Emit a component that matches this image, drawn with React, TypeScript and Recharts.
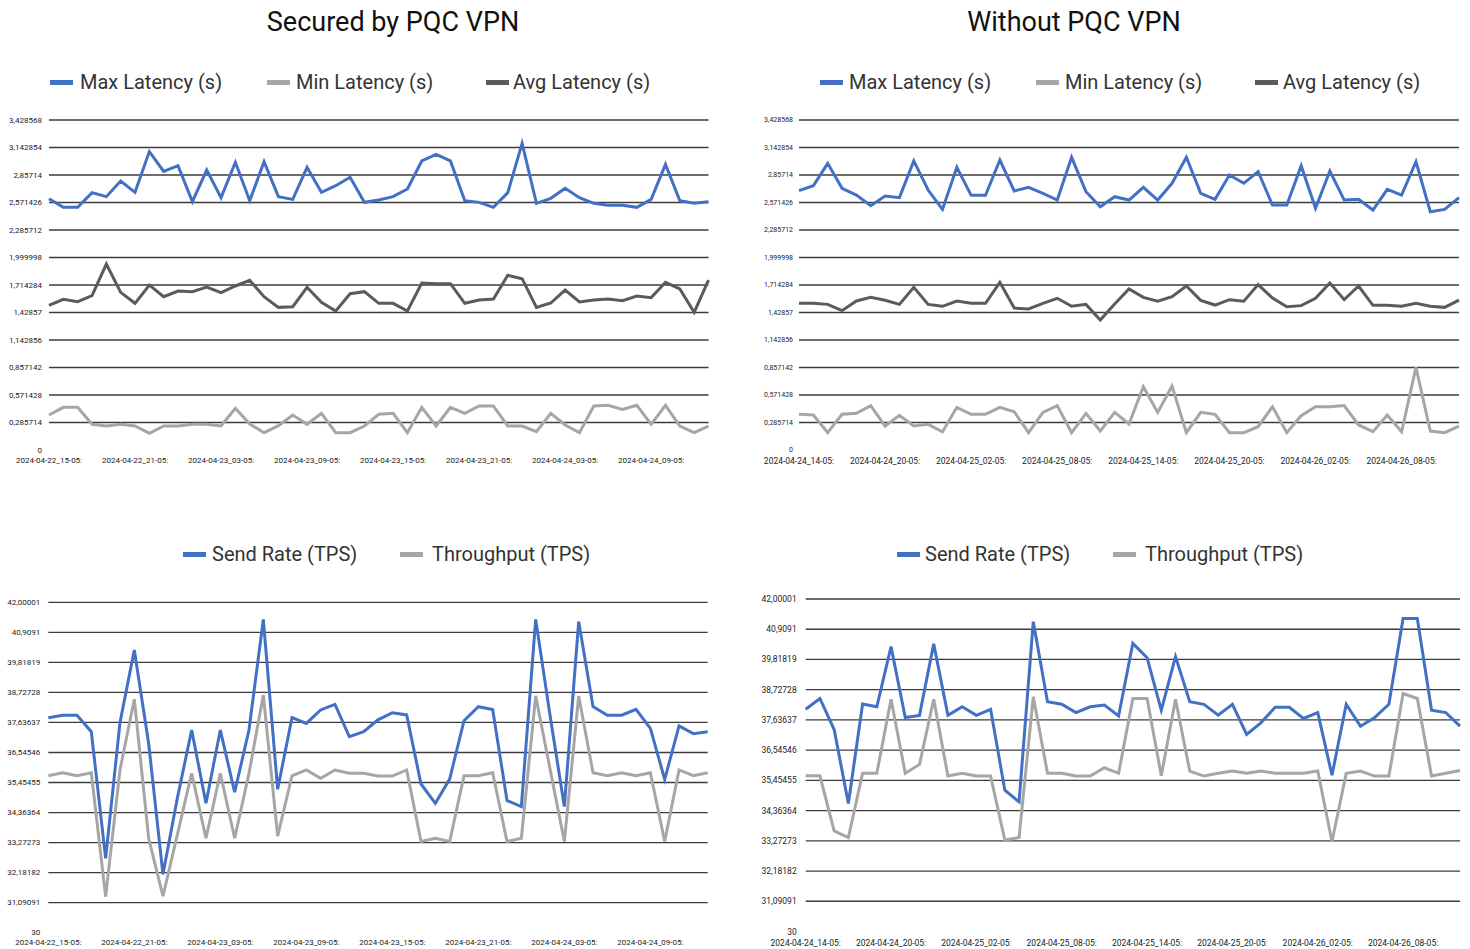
import React from "react";
import { LineChart, Line, XAxis, YAxis, CartesianGrid } from "recharts";

// ---------- categories ----------
const catsSecured = [
  "2024-04-22_15-05:", "2024-04-22_16-05:", "2024-04-22_17-05:", "2024-04-22_18-05:", "2024-04-22_19-05:", "2024-04-22_20-05:",
  "2024-04-22_21-05:", "2024-04-22_22-05:", "2024-04-22_23-05:", "2024-04-23_00-05:", "2024-04-23_01-05:", "2024-04-23_02-05:",
  "2024-04-23_03-05:", "2024-04-23_04-05:", "2024-04-23_05-05:", "2024-04-23_06-05:", "2024-04-23_07-05:", "2024-04-23_08-05:",
  "2024-04-23_09-05:", "2024-04-23_10-05:", "2024-04-23_11-05:", "2024-04-23_12-05:", "2024-04-23_13-05:", "2024-04-23_14-05:",
  "2024-04-23_15-05:", "2024-04-23_16-05:", "2024-04-23_17-05:", "2024-04-23_18-05:", "2024-04-23_19-05:", "2024-04-23_20-05:",
  "2024-04-23_21-05:", "2024-04-23_22-05:", "2024-04-23_23-05:", "2024-04-24_00-05:", "2024-04-24_01-05:", "2024-04-24_02-05:",
  "2024-04-24_03-05:", "2024-04-24_04-05:", "2024-04-24_05-05:", "2024-04-24_06-05:", "2024-04-24_07-05:", "2024-04-24_08-05:",
  "2024-04-24_09-05:", "2024-04-24_10-05:", "2024-04-24_11-05:", "2024-04-24_12-05:", "2024-04-24_13-05:",
];
const catsWithout = [
  "2024-04-24_14-05:", "2024-04-24_15-05:", "2024-04-24_16-05:", "2024-04-24_17-05:", "2024-04-24_18-05:", "2024-04-24_19-05:",
  "2024-04-24_20-05:", "2024-04-24_21-05:", "2024-04-24_22-05:", "2024-04-24_23-05:", "2024-04-25_00-05:", "2024-04-25_01-05:",
  "2024-04-25_02-05:", "2024-04-25_03-05:", "2024-04-25_04-05:", "2024-04-25_05-05:", "2024-04-25_06-05:", "2024-04-25_07-05:",
  "2024-04-25_08-05:", "2024-04-25_09-05:", "2024-04-25_10-05:", "2024-04-25_11-05:", "2024-04-25_12-05:", "2024-04-25_13-05:",
  "2024-04-25_14-05:", "2024-04-25_15-05:", "2024-04-25_16-05:", "2024-04-25_17-05:", "2024-04-25_18-05:", "2024-04-25_19-05:",
  "2024-04-25_20-05:", "2024-04-25_21-05:", "2024-04-25_22-05:", "2024-04-25_23-05:", "2024-04-26_00-05:", "2024-04-26_01-05:",
  "2024-04-26_02-05:", "2024-04-26_03-05:", "2024-04-26_04-05:", "2024-04-26_05-05:", "2024-04-26_06-05:", "2024-04-26_07-05:",
  "2024-04-26_08-05:", "2024-04-26_09-05:", "2024-04-26_10-05:", "2024-04-26_11-05:", "2024-04-26_12-05:",
];

// ---------- series: Secured by PQC VPN ----------
const securedMax = [2.611, 2.521, 2.521, 2.674, 2.632, 2.795, 2.677, 3.1, 2.895, 2.954, 2.58, 2.909, 2.622, 2.989, 2.59, 2.996, 2.632, 2.604, 2.937, 2.677, 2.746, 2.833, 2.573, 2.597, 2.632, 2.712, 3.003, 3.072, 3.003, 2.59, 2.573, 2.521, 2.674, 3.186, 2.563, 2.615, 2.719, 2.622, 2.563, 2.542, 2.542, 2.521, 2.604, 2.968, 2.59, 2.563, 2.58];
const securedMin = [0.364, 0.443, 0.443, 0.267, 0.249, 0.267, 0.249, 0.173, 0.249, 0.249, 0.267, 0.267, 0.249, 0.433, 0.27, 0.18, 0.253, 0.364, 0.267, 0.381, 0.18, 0.18, 0.249, 0.371, 0.381, 0.18, 0.443, 0.249, 0.443, 0.381, 0.457, 0.457, 0.249, 0.249, 0.19, 0.381, 0.26, 0.18, 0.457, 0.464, 0.422, 0.464, 0.267, 0.464, 0.249, 0.18, 0.249];
const securedAvg = [1.503, 1.565, 1.541, 1.603, 1.932, 1.638, 1.524, 1.714, 1.593, 1.652, 1.645, 1.693, 1.635, 1.704, 1.763, 1.593, 1.482, 1.489, 1.69, 1.534, 1.444, 1.624, 1.645, 1.524, 1.524, 1.444, 1.735, 1.728, 1.728, 1.524, 1.558, 1.569, 1.815, 1.78, 1.482, 1.527, 1.662, 1.538, 1.558, 1.569, 1.551, 1.6, 1.583, 1.742, 1.673, 1.43, 1.766];
const securedSend = [37.81, 37.9, 37.9, 37.3, 32.7, 37.63, 40.27, 36.88, 32.12, 34.88, 37.36, 34.7, 37.36, 35.1, 37.36, 41.38, 35.21, 37.81, 37.6, 38.09, 38.29, 37.12, 37.3, 37.73, 37.99, 37.91, 35.4, 34.7, 35.58, 37.7, 38.21, 38.11, 34.8, 34.58, 41.38, 37.9, 34.58, 41.3, 38.21, 37.9, 37.9, 38.11, 37.42, 35.57, 37.51, 37.23, 37.3];
const securedThroughput = [35.7, 35.81, 35.7, 35.81, 31.31, 35.91, 38.48, 33.43, 31.33, 33.55, 35.79, 33.43, 35.79, 33.43, 35.79, 38.63, 33.51, 35.7, 35.91, 35.61, 35.91, 35.79, 35.79, 35.69, 35.69, 35.91, 33.31, 33.43, 33.31, 35.7, 35.7, 35.81, 33.31, 33.43, 38.6, 35.95, 33.31, 38.6, 35.81, 35.7, 35.81, 35.7, 35.81, 33.31, 35.91, 35.7, 35.81];

// ---------- series: Without PQC VPN ----------
const withoutMax = [2.694, 2.746, 2.978, 2.719, 2.649, 2.539, 2.639, 2.622, 3.003, 2.701, 2.5, 2.937, 2.646, 2.646, 3.013, 2.691, 2.729, 2.667, 2.597, 3.041, 2.684, 2.528, 2.632, 2.597, 2.729, 2.597, 2.771, 3.041, 2.667, 2.604, 2.857, 2.771, 2.892, 2.545, 2.545, 2.954, 2.511, 2.899, 2.597, 2.604, 2.493, 2.708, 2.649, 2.996, 2.476, 2.5, 2.622];
const withoutMin = [0.371, 0.364, 0.18, 0.371, 0.381, 0.461, 0.249, 0.36, 0.249, 0.267, 0.19, 0.443, 0.371, 0.371, 0.443, 0.398, 0.18, 0.391, 0.461, 0.18, 0.381, 0.197, 0.391, 0.27, 0.658, 0.391, 0.665, 0.18, 0.391, 0.371, 0.18, 0.18, 0.242, 0.45, 0.18, 0.357, 0.45, 0.45, 0.461, 0.26, 0.19, 0.364, 0.19, 0.859, 0.197, 0.18, 0.249];
const withoutAvg = [1.524, 1.524, 1.513, 1.448, 1.548, 1.586, 1.555, 1.513, 1.69, 1.513, 1.493, 1.548, 1.524, 1.524, 1.742, 1.475, 1.465, 1.524, 1.576, 1.493, 1.513, 1.351, 1.517, 1.673, 1.586, 1.545, 1.593, 1.704, 1.555, 1.506, 1.562, 1.545, 1.718, 1.579, 1.489, 1.5, 1.576, 1.735, 1.562, 1.704, 1.503, 1.503, 1.493, 1.524, 1.493, 1.482, 1.558];
const withoutSend = [38.02, 38.41, 37.29, 34.62, 38.21, 38.11, 40.28, 37.72, 37.8, 40.38, 37.8, 38.11, 37.8, 38.02, 35.1, 34.68, 41.18, 38.29, 38.2, 37.9, 38.11, 38.17, 37.78, 40.4, 39.88, 37.99, 39.92, 38.29, 38.2, 37.81, 38.2, 37.11, 37.53, 38.09, 38.09, 37.69, 37.9, 35.64, 38.2, 37.41, 37.72, 38.2, 41.3, 41.3, 37.99, 37.9, 37.41];
const withoutThroughput = [35.62, 35.62, 33.63, 33.39, 35.71, 35.71, 38.38, 35.71, 36.03, 38.38, 35.61, 35.71, 35.61, 35.61, 33.3, 33.39, 38.47, 35.71, 35.71, 35.61, 35.61, 35.91, 35.71, 38.41, 38.41, 35.62, 38.38, 35.79, 35.61, 35.71, 35.79, 35.71, 35.79, 35.71, 35.71, 35.71, 35.79, 33.24, 35.71, 35.79, 35.61, 35.61, 38.59, 38.41, 35.61, 35.71, 35.81];

// ---------- tick values and labels ----------
const latencyTicks = [0, 0.285714, 0.571428, 0.857142, 1.142856, 1.42857, 1.714284, 1.999998, 2.285712, 2.571426, 2.85714, 3.142854, 3.428568];
const latencyTickLabels = ["0", "0,285714", "0,571428", "0,857142", "1,142856", "1,42857", "1,714284", "1,999998", "2,285712", "2,571426", "2,85714", "3,142854", "3,428568"];
const tpsTicks = [30, 31.09091, 32.18182, 33.27273, 34.36364, 35.45455, 36.54546, 37.63637, 38.72728, 39.81819, 40.9091, 42.00001];
const tpsTickLabels = ["30", "31,09091", "32,18182", "33,27273", "34,36364", "35,45455", "36,54546", "37,63637", "38,72728", "39,81819", "40,9091", "42,00001"];

const BLUE = "#4170c5";
const LIGHT = "#a6a6a6";
const DARK = "#5b5b5b";
const FONT = "Roboto, 'Liberation Sans', sans-serif";

const latSecuredData = catsSecured.map((t, i) => ({ t, max: securedMax[i], min: securedMin[i], avg: securedAvg[i] }));
const latWithoutData = catsWithout.map((t, i) => ({ t, max: withoutMax[i], min: withoutMin[i], avg: withoutAvg[i] }));
const tpsSecuredData = catsSecured.map((t, i) => ({ t, send: securedSend[i], thr: securedThroughput[i] }));
const tpsWithoutData = catsWithout.map((t, i) => ({ t, send: withoutSend[i], thr: withoutThroughput[i] }));

type PanelProps = {
  left: number; top: number; width: number; height: number;
  plotLeft: number; plotRight: number; plotTop: number; plotBottom: number;
  data: any[]; series: { key: string; color: string }[];
  ticks: number[]; tickLabels: string[];
  yFont: number; yOff: number; xFont: number; xOff: number;
};

function Panel(p: PanelProps) {
  const yAxisW = p.plotLeft - p.left;
  const marginTop = p.plotTop - p.top;
  const marginRight = p.left + p.width - p.plotRight;
  const xAxisH = p.top + p.height - p.plotBottom;
  const labelOf = (v: number) => {
    const idx = p.ticks.findIndex((t) => Math.abs(t - v) < 1e-6);
    return idx >= 0 ? p.tickLabels[idx] : String(v);
  };
  const YTick = (props: any) => (
    <text x={props.x} y={props.y} textAnchor="end" dominantBaseline="central" fontSize={p.yFont} fill="#222" fontFamily={FONT}>
      {labelOf(props.payload.value)}
    </text>
  );
  const XTick = (props: any) => (
    <text x={props.x} y={props.y} textAnchor="middle" dominantBaseline="central" fontSize={p.xFont} fill="#222" fontFamily={FONT}>
      {props.payload.value}
    </text>
  );
  return (
    <div style={{ position: "absolute", left: p.left, top: p.top, width: p.width, height: p.height }}>
      <LineChart width={p.width} height={p.height} data={p.data}
        margin={{ top: marginTop, right: marginRight, bottom: 0, left: 0 }}>
        <CartesianGrid vertical={false} stroke="#3c3c3c" strokeWidth={1.3}
          horizontalValues={p.ticks.slice(1)} />
        <XAxis dataKey="t" interval={5} axisLine={false} tickLine={false} tickSize={0}
          tickMargin={p.xOff} height={xAxisH} tick={XTick} />
        <YAxis type="number" domain={[p.ticks[0], p.ticks[p.ticks.length - 1]]} ticks={p.ticks}
          interval={0} axisLine={false} tickLine={false} tickSize={0} tickMargin={p.yOff}
          width={yAxisW} tick={YTick} allowDataOverflow />
        {p.series.map((s) => (
          <Line key={s.key} type="linear" dataKey={s.key} stroke={s.color} strokeWidth={3}
            dot={false} activeDot={false} isAnimationActive={false} />
        ))}
      </LineChart>
    </div>
  );
}

function LegendItem({ x, sx, y, color, label }: { x: number; sx: number; y: number; color: string; label: string }) {
  return (
    <>
      <div style={{ position: "absolute", left: sx, top: y - 2.5, width: 23, height: 5, background: color }} />
      <div style={{ position: "absolute", left: x, top: y - 13, height: 26, lineHeight: "26px", fontSize: 20,
        color: "#333", fontFamily: FONT, whiteSpace: "nowrap" }}>{label}</div>
    </>
  );
}

function Title({ cx, y, text }: { cx: number; y: number; text: string }) {
  return (
    <div style={{ position: "absolute", left: cx - 200, width: 400, top: y - 16, height: 32, lineHeight: "32px",
      textAlign: "center", fontSize: 27, color: "#111", fontFamily: FONT, whiteSpace: "nowrap" }}>{text}</div>
  );
}

export default function App() {
  const latSeries = [
    { key: "max", color: BLUE },
    { key: "min", color: LIGHT },
    { key: "avg", color: DARK },
  ];
  const tpsSeries = [
    { key: "thr", color: LIGHT },
    { key: "send", color: BLUE },
  ];
  return (
    <div style={{ position: "absolute", left: 0, top: 0, width: 1470, height: 949, background: "#fff", overflow: "hidden" }}>
      <Title cx={393} y={22} text="Secured by PQC VPN" />
      <Title cx={1074} y={22} text="Without PQC VPN" />

      <LegendItem sx={50} x={80} y={82} color={BLUE} label="Max Latency (s)" />
      <LegendItem sx={267} x={296} y={82} color={LIGHT} label="Min Latency (s)" />
      <LegendItem sx={486} x={513} y={82} color={DARK} label="Avg Latency (s)" />
      <LegendItem sx={820} x={849} y={82} color={BLUE} label="Max Latency (s)" />
      <LegendItem sx={1036} x={1065} y={82} color={LIGHT} label="Min Latency (s)" />
      <LegendItem sx={1255} x={1283} y={82} color={DARK} label="Avg Latency (s)" />

      <LegendItem sx={183} x={212} y={554} color={BLUE} label="Send Rate (TPS)" />
      <LegendItem sx={400} x={432} y={554} color={LIGHT} label="Throughput (TPS)" />
      <LegendItem sx={897} x={925} y={554} color={BLUE} label="Send Rate (TPS)" />
      <LegendItem sx={1113} x={1145} y={554} color={LIGHT} label="Throughput (TPS)" />

      <Panel left={0} top={100} width={735} height={380} plotLeft={49} plotRight={708.5} plotTop={120} plotBottom={450}
        data={latSecuredData} series={latSeries} ticks={latencyTicks} tickLabels={latencyTickLabels}
        yFont={8} yOff={7} xFont={8} xOff={10} />
      <Panel left={735} top={100} width={735} height={380} plotLeft={799} plotRight={1459} plotTop={120} plotBottom={450}
        data={latWithoutData} series={latSeries} ticks={latencyTicks} tickLabels={latencyTickLabels}
        yFont={7} yOff={6} xFont={8.5} xOff={11} />
      <Panel left={0} top={580} width={735} height={369} plotLeft={48.3} plotRight={707.7} plotTop={602.3} plotBottom={932.7}
        data={tpsSecuredData} series={tpsSeries} ticks={tpsTicks} tickLabels={tpsTickLabels}
        yFont={8} yOff={8} xFont={8} xOff={10} />
      <Panel left={735} top={580} width={735} height={369} plotLeft={805.7} plotRight={1460} plotTop={599} plotBottom={931.5}
        data={tpsWithoutData} series={tpsSeries} ticks={tpsTicks} tickLabels={tpsTickLabels}
        yFont={8.5} yOff={9} xFont={8.5} xOff={11} />
    </div>
  );
}
